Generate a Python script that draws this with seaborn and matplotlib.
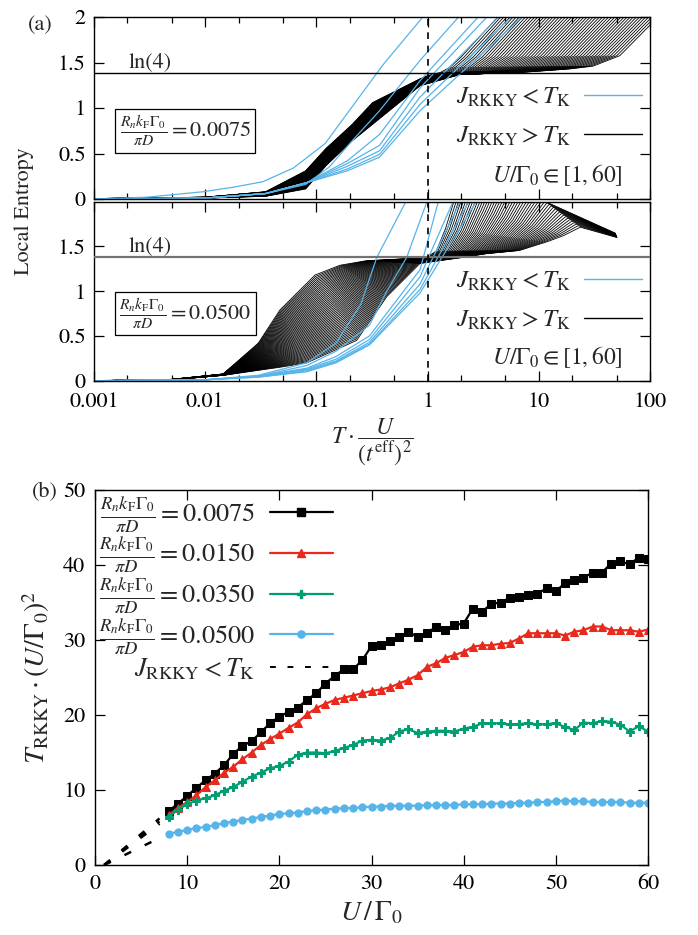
import numpy as np
import pandas as pd
import matplotlib
matplotlib.use("Agg")
import matplotlib.pyplot as plt
import seaborn as sns
from matplotlib.lines import Line2D
from matplotlib.ticker import LogLocator, NullFormatter, FixedLocator, FixedFormatter

# ---------------------------------------------------------------- data
U_all = list(range(1, 61))
U_blue = U_all[:7]          # J_RKKY < T_K
U_black = U_all[7:]         # J_RKKY > T_K

LN4 = np.log(4.0)

# ---- panel (a), upper: Rn kF G0/(pi D) = 0.0075
a1_blue_x = [
    [0.001, 0.003, 0.0096, 0.018, 0.033, 0.062, 0.12, 0.2, 0.4, 0.95],
    [0.001, 0.01, 0.035, 0.08, 0.13, 0.21, 0.37, 0.85, 2.0],
    [0.001, 0.01, 0.035, 0.082, 0.19, 0.37, 0.855, 3.0],
    [0.001, 0.01, 0.035, 0.082, 0.19, 0.37, 0.855, 3.6],
    [0.001, 0.01, 0.035, 0.082, 0.19, 0.37, 0.855, 4.6],
    [0.001, 0.01, 0.035, 0.082, 0.19, 0.37, 0.855, 6.0],
    [0.001, 0.01, 0.035, 0.082, 0.19, 0.37, 0.855, 7.5],
]
a1_blue_S = [
    [0.0, 0.02, 0.08, 0.13, 0.19, 0.34, 0.61, 0.98, 1.48, 2.03],
    [0.0, 0.01, 0.06, 0.16, 0.35, 0.64, 0.97, 1.52, 2.03],
    [0.0, 0.01, 0.06, 0.18, 0.42, 0.71, 1.30, 2.03],
    [0.0, 0.01, 0.06, 0.18, 0.39, 0.59, 1.22, 2.03],
    [0.0, 0.01, 0.06, 0.18, 0.36, 0.53, 1.12, 2.03],
    [0.0, 0.01, 0.06, 0.18, 0.33, 0.49, 1.04, 2.03],
    [0.0, 0.01, 0.06, 0.18, 0.31, 0.46, 0.97, 2.03],
]
# black family edges (U = 8 and U = 60), corresponding vertices
a1_first_x = [0.001, 0.01, 0.035, 0.08, 0.123, 0.21, 0.32, 0.855, 1.0, 1.15, 1.3, 1.6, 2.0, 4.5]
a1_first_S = [0.005, 0.02, 0.08, 0.31, 0.56, 0.82, 1.06, 1.32, 1.355, 1.375, 1.39, 1.45, 1.56, 2.03]
a1_last_x = [0.001, 0.01, 0.035, 0.08, 0.123, 0.21, 0.32, 0.855, 2.0, 6.75, 19.2, 30.8, 53.5, 125.0]
a1_last_S = [0.0, 0.01, 0.03, 0.11, 0.37, 0.64, 0.82, 1.245, 1.37, 1.39, 1.43, 1.46, 1.575, 2.03]

# ---- panel (a), lower: Rn kF G0/(pi D) = 0.0500
a2_blue_x = [
    [0.001, 0.01, 0.03, 0.082, 0.15, 0.25, 0.35, 0.65],
    [0.001, 0.01, 0.03, 0.082, 0.15, 0.3, 0.43, 0.65, 1.0],
    [0.001, 0.01, 0.03, 0.082, 0.15, 0.3, 0.855, 1.26],
    [0.001, 0.01, 0.03, 0.082, 0.15, 0.3, 0.855, 1.72],
    [0.001, 0.01, 0.03, 0.082, 0.15, 0.3, 0.855, 2.0],
    [0.001, 0.01, 0.03, 0.082, 0.15, 0.3, 0.855, 2.4],
    [0.001, 0.01, 0.03, 0.082, 0.15, 0.3, 0.855, 2.8],
]
a2_blue_S = [
    [0.0, 0.01, 0.06, 0.20, 0.42, 0.85, 1.38, 2.02],
    [0.0, 0.01, 0.05, 0.17, 0.33, 0.62, 1.00, 1.38, 2.02],
    [0.0, 0.01, 0.05, 0.14, 0.27, 0.50, 1.24, 2.02],
    [0.0, 0.01, 0.05, 0.13, 0.24, 0.46, 1.16, 2.02],
    [0.0, 0.01, 0.05, 0.12, 0.22, 0.43, 1.08, 2.02],
    [0.0, 0.01, 0.04, 0.11, 0.21, 0.41, 1.02, 2.02],
    [0.0, 0.01, 0.04, 0.10, 0.20, 0.40, 0.98, 2.02],
]
a2_first_x = [0.001, 0.005, 0.0145, 0.03, 0.047, 0.097, 0.163, 0.28, 0.855, 1.0, 1.2, 1.45, 1.72, 2.5, 45.0]
a2_first_S = [0.0, 0.015, 0.075, 0.42, 0.79, 1.18, 1.29, 1.34, 1.37, 1.385, 1.45, 1.70, 2.0, 2.6, 1.75]
a2_last_x = [0.001, 0.005, 0.0145, 0.047, 0.082, 0.23, 0.43, 0.855, 2.0, 3.4, 6.7, 11.7, 16.6, 23.6, 50.5]
a2_last_S = [0.0, 0.01, 0.06, 0.15, 0.20, 0.45, 0.94, 1.31, 1.375, 1.42, 1.455, 1.55, 1.62, 1.715, 1.60]

# ---- panel (b)
U_b = list(range(8, 61))
T_0075 = [7.2, 8.2, 9.2, 10.3, 11.3, 12.2, 13.3, 14.8, 15.9, 16.5, 17.7, 18.9, 19.8, 20.4,
          21.0, 22.0, 22.9, 24.2, 25.2, 26.1, 26.1, 27.3, 29.2, 29.4, 29.9, 30.4, 31.1, 30.4,
          31.0, 31.7, 31.3, 32.0, 32.2, 34.2, 33.8, 34.8, 35.0, 35.6, 35.8, 36.0, 36.2, 36.9,
          36.5, 37.6, 38.0, 38.3, 39.0, 39.0, 40.2, 40.5, 40.1, 41.0, 40.8]
T_0150 = [6.7, 7.6, 8.4, 9.3, 10.4, 11.3, 12.3, 13.1, 14.1, 15.0, 16.0, 16.8, 17.5, 18.3,
          19.0, 20.1, 20.9, 21.5, 22.0, 22.3, 22.6, 22.9, 23.2, 23.4, 23.7, 24.2, 24.7, 25.3,
          26.4, 26.9, 27.6, 28.0, 28.4, 29.1, 29.3, 29.3, 29.5, 29.6, 30.2, 30.9, 30.9, 30.9,
          30.9, 30.6, 31.1, 31.3, 31.8, 31.8, 31.3, 31.3, 31.3, 31.1, 31.4]
T_0350 = [6.4, 7.4, 8.1, 8.6, 8.9, 9.3, 9.9, 10.4, 11.1, 11.8, 12.3, 12.9, 13.2, 13.8,
          14.7, 15.0, 15.0, 14.9, 15.2, 15.6, 16.0, 16.6, 16.7, 16.6, 16.9, 17.8, 18.1, 17.6,
          17.8, 17.9, 17.9, 17.8, 18.2, 18.4, 18.9, 18.9, 18.9, 18.75, 18.8, 18.9, 18.75, 18.8,
          18.9, 18.4, 18.0, 19.0, 18.9, 19.2, 19.1, 18.7, 17.8, 18.5, 17.8]
T_0500 = [4.2, 4.4, 4.7, 4.9, 5.1, 5.3, 5.6, 5.8, 6.0, 6.2, 6.4, 6.6, 6.8, 6.9,
          7.0, 7.2, 7.3, 7.4, 7.5, 7.6, 7.6, 7.7, 7.8, 7.8, 7.9, 7.9, 7.9, 7.9,
          8.0, 8.0, 8.0, 8.0, 8.1, 8.1, 8.1, 8.2, 8.2, 8.2, 8.3, 8.3, 8.4, 8.4,
          8.5, 8.6, 8.5, 8.5, 8.4, 8.4, 8.4, 8.4, 8.3, 8.3, 8.3]
dash_U = [1, 7]
dash_T = [[0, 6.2], [0, 5.8], [0, 5.5], [0, 3.6]]

ratio_labels = ["0.0075", "0.0150", "0.0350", "0.0500"]
series_colors = ["black", "#e8291c", "#009e73", "#56b4e9"]
series_markers = ["s", "^", "P", "o"]

# ---------------------------------------------------------------- style
sns.set_theme(style="ticks")
plt.rcParams.update({
    "font.family": ["STIXGeneral", "DejaVu Serif"],
    "mathtext.fontset": "stix",
    "font.size": 15,
    "axes.linewidth": 1.0,
    "axes.edgecolor": "black",
    "xtick.color": "black",
    "ytick.color": "black",
})

BLUE = "#56b4e9"
FRAC = r"\frac{R_n k_{\rm F}\Gamma_0}{\pi D}"


def family_frame(first_x, first_S, last_x, last_S, U_list, hide_tail=False):
    lx0, lx1 = np.log10(first_x), np.log10(last_x)
    s0, s1 = np.asarray(first_S), np.asarray(last_S)
    rows = []
    for U in U_list:
        f = (U - U_list[0]) / (U_list[-1] - U_list[0])
        lx = (1 - f) * lx0 + f * lx1
        s = (1 - f) * s0 + f * s1
        if hide_tail and s[-2] > 2.02:
            lx, s = lx[:-1], s[:-1]
        for i, (a, b) in enumerate(zip(lx, s)):
            rows.append((U, i, 10 ** a, b))
    return pd.DataFrame(rows, columns=["U", "i", "x", "S"])


def blue_frame(xs, ss, U_list):
    rows = []
    for U, xx, yy in zip(U_list, xs, ss):
        for i, (a, b) in enumerate(zip(xx, yy)):
            rows.append((U, i, a, b))
    return pd.DataFrame(rows, columns=["U", "i", "x", "S"])


W, H = 698, 935
fig = plt.figure(figsize=(W / 100, H / 100), dpi=100)
ax1 = fig.add_axes([94 / W, 1 - 199 / H, 556 / W, 182 / H])
ax2 = fig.add_axes([94 / W, 1 - 380.7 / H, 556 / W, 179 / H])
axb = fig.add_axes([95 / W, 1 - 865 / H, 553 / W, 375 / H])

panels = [
    (ax1, a1_first_x, a1_first_S, a1_last_x, a1_last_S, a1_blue_x, a1_blue_S, False, "0.0075", "black", 1.0),
    (ax2, a2_first_x, a2_first_S, a2_last_x, a2_last_S, a2_blue_x, a2_blue_S, True, "0.0500", "0.45", 1.6),
]
for (ax, fx, fs, lx, ls, bx, bs, hide, rlabel, lncol, lnw) in panels:
    ax.set_xscale("log")
    dfk = family_frame(fx, fs, lx, ls, U_black, hide_tail=hide)
    sns.lineplot(data=dfk, x="x", y="S", units="U", estimator=None, sort=False,
                 color="black", lw=0.6, ax=ax, legend=False)
    dfb = blue_frame(bx, bs, U_blue)
    sns.lineplot(data=dfb, x="x", y="S", units="U", estimator=None, sort=False,
                 color=BLUE, lw=0.9, ax=ax, legend=False)
    ax.axhline(LN4, color=lncol, lw=lnw, zorder=3)
    ax.axvline(1.0, color="black", lw=1.2, ls=(0, (4, 4)), zorder=3)
    ax.set_xlim(0.001, 100)
    ax.set_ylim(0, 2)
    ax.text(0.0032, 1.5, "ln(4)", ha="center", va="center", fontsize=16)
    ax.text(0.164, 0.375, rf"${FRAC} = {rlabel}$", transform=ax.transAxes,
            ha="center", va="center", fontsize=16,
            bbox=dict(boxstyle="square,pad=0.2", fc="white", ec="black", lw=0.9))
    handles = [Line2D([], [], color=BLUE, lw=1.0), Line2D([], [], color="black", lw=1.0)]
    labels = [r"$J_{\rm RKKY} < T_{\rm K}$", r"$J_{\rm RKKY} > T_{\rm K}$"]
    ax.legend(handles, labels, loc="upper right", bbox_to_anchor=(0.985, 0.62),
              markerfirst=False, frameon=False, fontsize=18, handlelength=2.3,
              handletextpad=0.55, labelspacing=0.6, borderaxespad=0, borderpad=0)
    ax.text(0.95, 0.13, r"$U/\Gamma_0 \in [1,60]$", transform=ax.transAxes,
            ha="right", va="center", fontsize=17)
    ax.xaxis.set_major_locator(LogLocator(base=10, numticks=10))
    ax.xaxis.set_minor_locator(LogLocator(base=10, subs=(2.0, 5.0), numticks=10))
    ax.xaxis.set_minor_formatter(NullFormatter())
    ax.tick_params(which="both", direction="in", top=True, right=True, width=0.9)
    ax.tick_params(which="major", length=7, labelsize=16, pad=8)
    ax.tick_params(axis="y", which="major", pad=6)
    ax.tick_params(which="minor", length=4)
    ax.set_xlabel("")
    ax.set_ylabel("")

ax1.set_yticks([0, 0.5, 1, 1.5, 2])
ax1.set_yticklabels(["0", "0.5", "1", "1.5", "2"])
ax1.tick_params(labelbottom=False)
ax2.set_yticks([0, 0.5, 1, 1.5])
ax2.set_yticklabels(["0", "0.5", "1", "1.5"])
ax2.xaxis.set_major_locator(FixedLocator([0.001, 0.01, 0.1, 1, 10, 100]))
ax2.xaxis.set_major_formatter(FixedFormatter(["0.001", "0.01", "0.1", "1", "10", "100"]))
ax2.set_xlabel(r"$T\cdot\dfrac{U}{(t^{\rm eff})^2}$", fontsize=17)
ax2.xaxis.set_label_coords(0.5, -0.2)
fig.text(24 / W, 1 - 211 / H, "Local Entropy", rotation=90, ha="center", va="center", fontsize=16)
fig.text(40 / W, 1 - 25 / H, "(a)", ha="center", va="center", fontsize=16)

# ---------------------------------------------------------------- panel (b)
series = [T_0075, T_0150, T_0350, T_0500]
handles, labels = [], []
for vals, col, mk, rl in zip(series, series_colors, series_markers, ratio_labels):
    sns.lineplot(x=U_b, y=vals, ax=axb, color=col, lw=1.6, marker=mk, markersize=5.2,
                 markeredgecolor=col, legend=False)
    handles.append(Line2D([], [], color=col, lw=1.6, marker=mk, markersize=5.2, markeredgecolor=col))
    labels.append(rf"${FRAC} = {rl}$")
for dv in dash_T:
    sns.lineplot(x=dash_U, y=dv, ax=axb, color="black", lw=1.8, ls=(0, (3, 6)), legend=False)
handles.append(Line2D([], [], color="black", lw=1.4, ls=(0, (3, 6))))
labels.append(r"$J_{\rm RKKY} < T_{\rm K}$")
axb.legend(handles, labels, loc="upper left", bbox_to_anchor=(0.0, 1.0), markerfirst=False,
           frameon=False, fontsize=19, handlelength=2.4, handletextpad=0.55,
           labelspacing=0.0, borderaxespad=0.15, borderpad=0.0)
axb.set_xlim(0, 60)
axb.set_ylim(0, 50)
axb.set_xticks([0, 10, 20, 30, 40, 50, 60])
axb.set_yticks([0, 10, 20, 30, 40, 50])
axb.tick_params(which="both", direction="in", top=True, right=True, width=0.9, length=7,
                labelsize=16, pad=7)
axb.set_xlabel(r"$U\,/\,\Gamma_0$", fontsize=20, labelpad=4)
axb.set_ylabel(r"$T_{\rm RKKY}\cdot(U/\Gamma_0)^2$", fontsize=20, labelpad=8)
fig.text(45 / W, 1 - 492 / H, "(b)", ha="center", va="center", fontsize=16)

fig.savefig("out.png", dpi=100)
